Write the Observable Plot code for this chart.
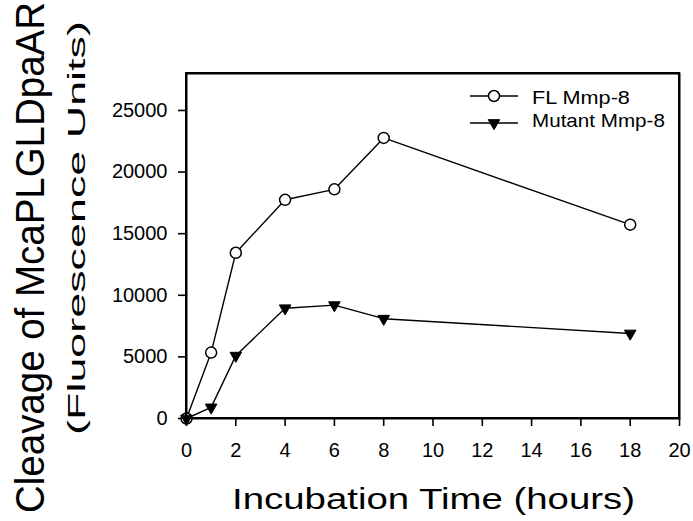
<!DOCTYPE html>
<html>
<head>
<meta charset="utf-8">
<script src="https://cdn.jsdelivr.net/npm/d3@7"></script>
<script src="https://cdn.jsdelivr.net/npm/@observablehq/plot@0.6"></script>
<style>
  html, body { margin: 0; padding: 0; background: #fff; }
  #chart { width: 693px; height: 521px; }
</style>
</head>
<body>
<div id="chart"></div>
<script>
// ---- data ----
const hours = [0, 1, 2, 4, 6, 8, 18];
const flValues = [0, 5350, 13450, 17750, 18600, 22770, 15730];
const mutantValues = [0, 900, 5100, 8950, 9200, 8100, 6900];
const seriesNames = ["FL Mmp-8", "Mutant Mmp-8"];
const xTicks = [0, 2, 4, 6, 8, 10, 12, 14, 16, 18, 20];
const yTicks = [0, 5000, 10000, 15000, 20000, 25000];
const xDomain = [0, 20];
const yDomain = [0, 28000];
const xTitle = "Incubation Time (hours)";
const yTitleLines = ["Cleavage of McaPLGLDpaAR", "(Fluorescence Units)"];

const fl = hours.map((h, i) => ({hour: h, value: flValues[i]}));
const mutant = hours.map((h, i) => ({hour: h, value: mutantValues[i]}));

const font = "'Liberation Sans', Arial, sans-serif";

const svg = Plot.plot({
  width: 693,
  height: 521,
  marginLeft: 186,
  marginRight: 14,
  marginTop: 73,
  marginBottom: 103,
  style: {fontFamily: font, fontSize: "20px", color: "#000", background: "#fff", overflow: "visible"},
  x: {domain: xDomain},
  y: {domain: yDomain},
  marks: [
    Plot.axisX({ticks: xTicks, tickSize: 8, tickPadding: 16, strokeWidth: 1.6, label: null, tickFormat: d => String(d)}),
    Plot.axisY({ticks: yTicks, tickSize: 8, tickPadding: 11, strokeWidth: 1.6, label: null, tickFormat: d => String(d)}),
    Plot.frame({stroke: "#000", strokeWidth: 2}),
    Plot.line(fl, {x: "hour", y: "value", stroke: "#000", strokeWidth: 1.4}),
    Plot.line(mutant, {x: "hour", y: "value", stroke: "#000", strokeWidth: 1.4}),
    Plot.dot(fl, {x: "hour", y: "value", symbol: "circle", r: 5.5, fill: "#fff", stroke: "#000", strokeWidth: 1.5}),
    Plot.dot(mutant, {x: "hour", y: "value", symbol: "triangle", rotate: 180, r: 4.3, fill: "#000", stroke: "#000", strokeWidth: 1})
  ]
});
document.getElementById("chart").appendChild(svg);

const s = d3.select(svg);

// stretched text helper: draws text, then scales it along its baseline to a target length
function stretchedText(parent, {x, y, rotate = 0, size, length, anchor, text}) {
  const t = parent.append("text")
    .attr("text-anchor", anchor)
    .attr("font-family", font).attr("font-size", size).attr("fill", "#000")
    .attr("stroke", "none")
    .attr("transform", `translate(${x},${y}) rotate(${rotate})`)
    .text(text);
  const natural = t.node().getComputedTextLength();
  const k = natural > 0 ? length / natural : 1;
  t.attr("transform", `translate(${x},${y}) rotate(${rotate}) scale(${k},1)`);
  return t;
}

// Axis titles
stretchedText(s, {x: 433.5, y: 509, size: 30, length: 403, anchor: "middle", text: xTitle});
stretchedText(s, {x: 44, y: 257.5, rotate: -90, size: 40, length: 511, anchor: "middle", text: yTitleLines[0]});
stretchedText(s, {x: 85, y: 228, rotate: -90, size: 24, length: 414, anchor: "middle", text: yTitleLines[1]});

// Legend
const legend = s.append("g");
const rows = [
  {name: seriesNames[0], cy: 96, ty: 104, len: 98, kind: "circle"},
  {name: seriesNames[1], cy: 123, ty: 127, len: 133, kind: "triangle"}
];
rows.forEach(r => {
  legend.append("line").attr("x1", 470).attr("x2", 518).attr("y1", r.cy).attr("y2", r.cy)
    .attr("stroke", "#000").attr("stroke-width", 1.4);
  if (r.kind === "circle") {
    legend.append("circle").attr("cx", 494).attr("cy", r.cy).attr("r", 5.5)
      .attr("fill", "#fff").attr("stroke", "#000").attr("stroke-width", 1.5);
  } else {
    legend.append("path")
      .attr("d", d3.symbol(d3.symbolTriangle, Math.PI * 4.3 * 4.3)())
      .attr("transform", `translate(494,${r.cy}) rotate(180)`)
      .attr("fill", "#000").attr("stroke", "#000").attr("stroke-width", 1);
  }
  stretchedText(legend, {x: 532, y: r.ty, size: 18, length: r.len, anchor: "start", text: r.name});
});

// Frame box as filled bars, positioned from the plot's own scales (drawn last)
const xs = svg.scale("x"), ys = svg.scale("y");
const fx0 = xs.apply(xDomain[0]), fx1 = xs.apply(xDomain[1]);
const fy0 = ys.apply(yDomain[0]), fy1 = ys.apply(yDomain[1]);
const bw = 2;
const frameG = s.append("g").attr("fill", "#000").attr("stroke", "none");
frameG.append("rect").attr("x", fx0 - bw / 2).attr("y", fy1 - bw / 2).attr("width", fx1 - fx0 + bw).attr("height", bw);
frameG.append("rect").attr("x", fx0 - bw / 2).attr("y", fy0 - bw / 2).attr("width", fx1 - fx0 + bw).attr("height", bw);
frameG.append("rect").attr("x", fx0 - bw / 2).attr("y", fy1 - bw / 2).attr("width", bw).attr("height", fy0 - fy1 + bw);
frameG.append("rect").attr("x", fx1 - bw / 2).attr("y", fy1 - bw / 2).attr("width", bw).attr("height", fy0 - fy1 + bw);
</script>
</body>
</html>
